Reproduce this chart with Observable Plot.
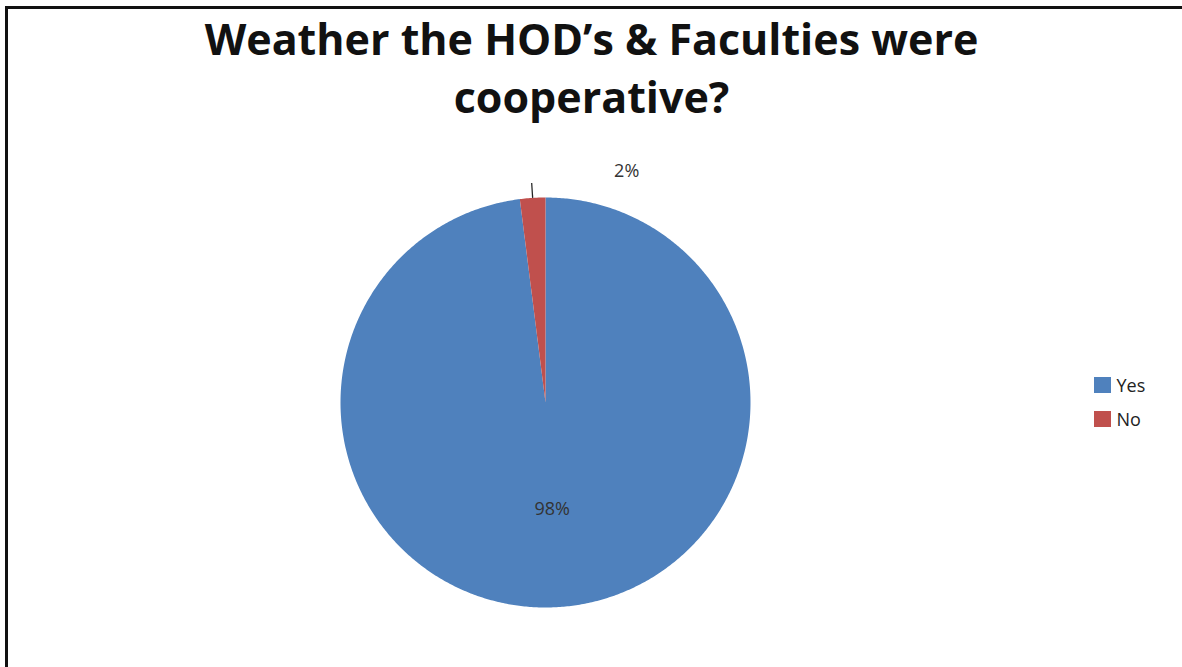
<!DOCTYPE html>
<html>
<head>
<meta charset="utf-8">
<script src="https://cdn.jsdelivr.net/npm/d3@7"></script>
<script src="https://cdn.jsdelivr.net/npm/@observablehq/plot@0.6"></script>
<style>
  html, body { margin: 0; padding: 0; background: #fff; }
</style>
</head>
<body>
<div id="chart"></div>
<script>
// ---- data ----
const categories = ["Yes", "No"];
const values = [98, 2];
const labels = ["98%", "2%"];
const colors = ["#4F81BD", "#C0504D"];
const titleLines = ["Weather the HOD\u2019s & Faculties were", "cooperative?"];

// ---- layout ----
const W = 1182, H = 667;
const cx = 545, cy = 402, R = 205;
const font = "Open Sans, Liberation Sans, sans-serif";

const pie = d3.pie().sort(null).value(d => d.value);
const arcs = pie(categories.map((c, i) => ({name: c, value: values[i], label: labels[i]})));

// polygon points for each slice
const slicePts = [];
arcs.forEach(a => {
  const n = Math.max(2, Math.ceil((a.endAngle - a.startAngle) / (Math.PI / 360)));
  slicePts.push({name: a.data.name, x: cx, y: cy});
  for (let k = 0; k <= n; k++) {
    const t = a.startAngle + (a.endAngle - a.startAngle) * k / n;
    slicePts.push({name: a.data.name, x: cx + R * Math.sin(t), y: cy - R * Math.cos(t)});
  }
  slicePts.push({name: a.data.name, x: cx, y: cy});
});

const mid = a => (a.startAngle + a.endAngle) / 2;
// inside label for big slice, outside label with leader for small slice
const inside = arcs.filter(a => a.data.value >= 10).map(a => ({
  label: a.data.label,
  x: cx + R * 0.52 * Math.sin(mid(a)),
  y: cy - R * 0.52 * Math.cos(mid(a))
}));
const outside = arcs.filter(a => a.data.value < 10).map(a => ({
  label: a.data.label,
  x1: cx + R * Math.sin(mid(a)), y1: cy - R * Math.cos(mid(a)),
  x2: cx + (R + 15) * Math.sin(mid(a)), y2: cy - (R + 15) * Math.cos(mid(a))
}));

const legend = categories.map((c, i) => ({name: c, i}));

const plot = Plot.plot({
  width: W, height: H,
  margin: 0,
  x: {domain: [0, W], range: [0, W], axis: null},
  y: {domain: [0, H], range: [0, H], axis: null},
  color: {domain: categories, range: colors},
  style: {fontFamily: font, background: "#fff"},
  marks: [
    // frame lines (left and top)
    Plot.ruleX([6], {y1: 6, y2: H, stroke: "#111", strokeWidth: 3}),
    Plot.ruleY([7], {x1: 5, x2: W, stroke: "#111", strokeWidth: 3}),
    // pie slices
    Plot.line(slicePts, {x: "x", y: "y", z: "name", fill: "name", stroke: "none", curve: "linear"}),
    // leader line
    Plot.link(outside, {x1: "x1", y1: "y1", x2: "x2", y2: "y2", stroke: "#222", strokeWidth: 1.3}),
    Plot.text(outside, {x: "x2", y: "y2", text: "label", dx: 95, dy: -12, fontSize: 18, fill: "#333"}),
    Plot.text(inside, {x: "x", y: "y", text: "label", fontSize: 18, fill: "#333"}),
    // title
    Plot.text(titleLines, {x: 591, y: (d, i) => 41 + i * 58, text: d => d, fontSize: 43, fontWeight: "bold", fill: "#111"}),
    // legend
    Plot.rect(legend, {x1: 1094, x2: 1111, y1: d => 377 + d.i * 34, y2: d => 393 + d.i * 34, fill: "name"}),
    Plot.text(legend, {x: 1116, y: d => 386 + d.i * 34, text: "name", textAnchor: "start", fontSize: 18, fill: "#222"})
  ]
});
document.getElementById("chart").appendChild(plot);
</script>
</body>
</html>
